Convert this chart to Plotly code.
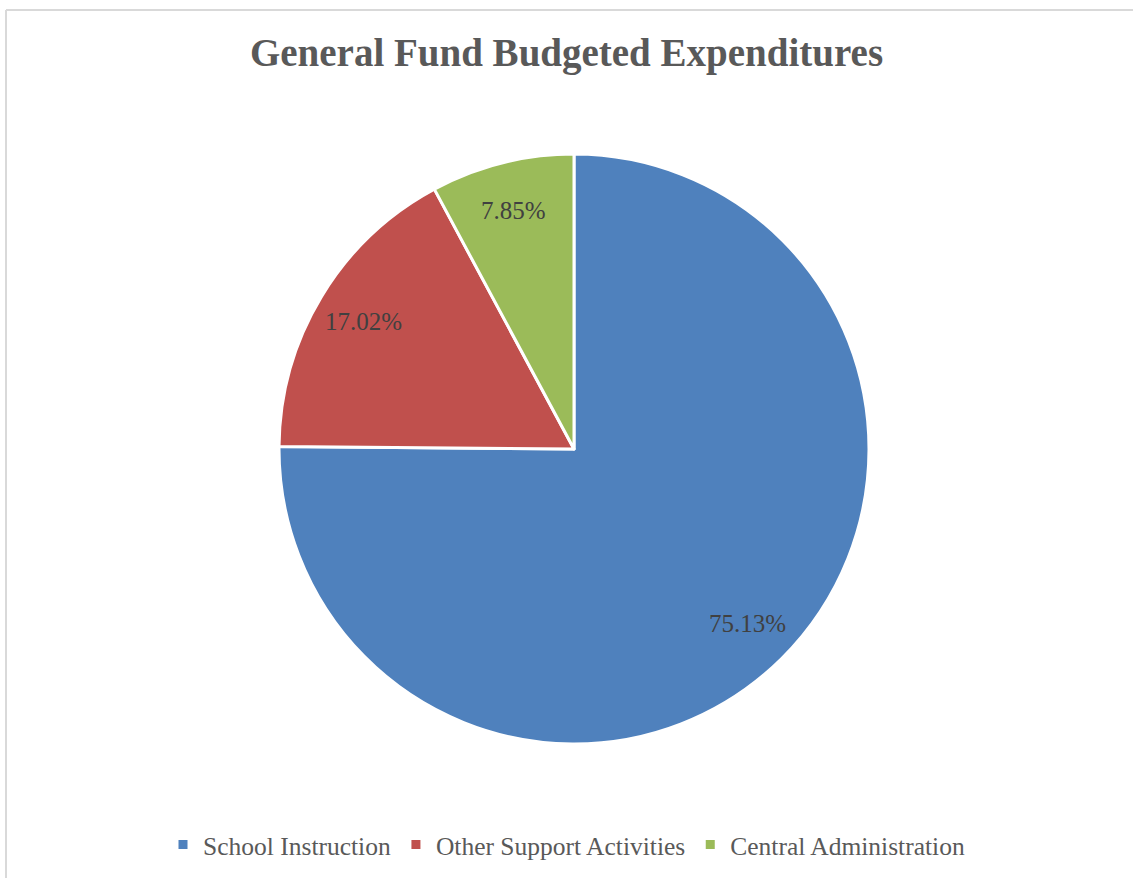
import math
import plotly.graph_objects as go

# chart data
categories = ["School Instruction", "Other Support Activities", "Central Administration"]
shares = [75.13, 17.02, 7.85]
colors = ["#4F81BD", "#C0504D", "#9BBB59"]

W, H = 1133, 878
serif = "Liberation Serif, DejaVu Serif, serif"

# pie geometry in pixels
cx, cy, R = 574, 449, 295
label_r = 0.835 * R

fig = go.Figure(go.Pie(
    labels=categories, values=shares, sort=False, direction="clockwise", rotation=0,
    marker=dict(colors=colors, line=dict(color="white", width=3)),
    textinfo="none",
    domain=dict(x=[(cx - R) / W, (cx + R) / W], y=[1 - (cy + R) / H, 1 - (cy - R) / H]),
    hoverinfo="label+percent",
))

# data labels, placed along each slice's bisector like the original
total = sum(shares)
annotations = []
start = 0.0
for v in shares:
    mid = (start + v / 2) / total * 2 * math.pi
    start += v
    px_ = cx + label_r * math.sin(mid)
    py_ = cy - label_r * math.cos(mid)
    annotations.append(dict(x=px_ / W, y=1 - py_ / H, xref="paper", yref="paper",
                            xanchor="center", yanchor="middle",
                            text=f"{v:.2f}%", showarrow=False,
                            font=dict(family=serif, size=25, color="#404040")))

fig.update_layout(
    width=W, height=H,
    margin=dict(l=0, r=0, t=0, b=0),
    paper_bgcolor="white",
    title=dict(text="<b>General Fund Budgeted Expenditures</b>", x=0.5, xanchor="center",
               y=1 - 52 / H, yanchor="middle",
               font=dict(family=serif, size=39, color="#595959")),
    legend=dict(orientation="h", x=0.5, xanchor="center", y=1 - 845 / H, yanchor="middle",
                font=dict(family=serif, size=25.5, color="#595959"), itemwidth=30,
                traceorder="normal"),
    annotations=annotations,
    shapes=[
        dict(type="line", xref="paper", yref="paper", x0=6 / W, x1=1, y0=1 - 10 / H, y1=1 - 10 / H,
             line=dict(color="#d9d9d9", width=2)),
        dict(type="line", xref="paper", yref="paper", x0=6 / W, x1=6 / W, y0=0, y1=1 - 10 / H,
             line=dict(color="#d9d9d9", width=2)),
    ],
)

fig.write_html("out.html", config={"displayModeBar": False},
               post_script="document.body.style.margin='0';")
